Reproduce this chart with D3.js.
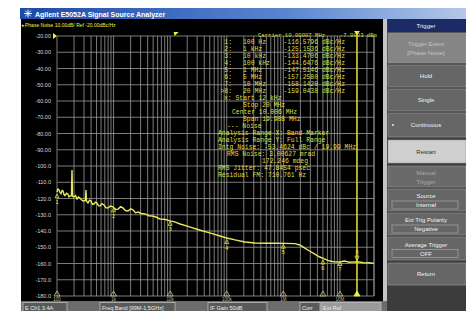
<!DOCTYPE html>
<meta charset="utf-8">
<title>E5052A Phase Noise</title>
<style>
body { margin: 0; background: #fff; }
svg text { font-family: "Liberation Sans", Arial, sans-serif; }
svg text.mono { font-family: "Liberation Mono", "DejaVu Sans Mono", monospace; }
</style>
<body>
<div id="chart"></div>
<script src="https://d3js.org/d3.v7.min.js"></script>
<script>
  // y axis ticks (dBc/Hz)
  var yTicks = [-20, -30, -40, -50, -60, -70, -80, -90, -100, -110, -120, -130, -140, -150, -160, -170, -180];
  var yTickLabels = ["-20.00", "-30.00", "-40.00", "-50.00", "-60.00", "-70.00", "-80.00", "-90.00",
                     "-100.0", "-110.0", "-120.0", "-130.0", "-140.0", "-150.0", "-160.0", "-170.0", "-180.0"];
  var decades = [100, 1e3, 1e4, 1e5, 1e6, 1e7];
  var decadeLabels = ["100", "1k", "10k", "100k", "1M", "10M"];

  // phase noise trace
  var traceFreq = [100, 104, 108, 113, 118, 123, 128, 133, 138, 147, 156, 163, 170, 180, 184, 188, 200, 213, 226,
                   240, 255, 270, 288, 318, 325, 332, 353, 375, 398, 425, 450, 480, 509, 540, 575, 620, 676, 730,
                   794, 880, 977, 1090, 1200, 1330, 1460, 1620, 1800, 2000, 2200, 2450, 2700, 3100, 3600, 4200,
                   4800, 5600, 6600, 8000, 9900, 12000, 15000, 22000, 33000, 50000, 76000, 1e5, 1.4e5, 2.1e5,
                   3.15e5, 4.75e5, 7.1e5, 1.07e6, 1.6e6, 1.95e6, 2.4e6, 2.9e6, 3.6e6, 4.4e6, 5.3e6, 6.6e6, 8.1e6,
                   1e7, 1.2e7, 1.47e7, 1.8e7, 2.2e7, 2.7e7, 3.3e7, 4e7];
  var traceDbc = [-116.0, -114.2, -114.6, -116.4, -117.0, -115.0, -115.3, -117.6, -118.2, -116.8, -117.4, -119.0,
                  -118.5, -118.3, -102.5, -118.6, -119.0, -118.2, -120.3, -119.0, -119.7, -120.8, -121.5, -121.2,
                  -114.8, -121.6, -122.8, -121.0, -121.5, -123.6, -123.4, -122.2, -122.8, -124.4, -124.6, -123.2,
                  -124.0, -125.6, -125.8, -124.6, -125.2, -126.8, -126.5, -125.0, -125.8, -127.4, -127.7, -126.4,
                  -127.0, -128.8, -128.3, -129.2, -129.5, -130.6, -130.8, -131.4, -132.6, -132.8, -133.8, -134.4,
                  -135.7, -137.5, -139.4, -141.2, -143.1, -144.3, -145.5, -146.8, -147.4, -147.5, -147.5, -147.6,
                  -147.8, -148.6, -150.5, -152.3, -154.2, -156.0, -157.2, -158.5, -159.0, -159.1, -158.5, -159.2,
                  -159.0, -159.1, -159.6, -159.5, -160.0];

  // markers
  var markerNames = ["1", "2", "3", "4", "5", "6", "7", ">8"];
  var markerFreq = [100, 1e3, 1e4, 1e5, 1e6, 5e6, 1e7, 2e7];
  var markerFreqLabels = ["100 Hz", "1 kHz", "10 kHz", "100 kHz", "1 MHz", "5 MHz", "10 MHz", "20 MHz"];
  var markerDbc = [-116.5796, -125.1536, -133.4706, -144.6476, -147.5146, -157.2580, -158.1420, -159.0438];
  var bandStart = 12e3, bandStop = 20e6;

  var noiseLines = ["Center 10.006 MHz", "Span 19.988 MHz", "--- Noise", "Analysis Range X: Band Marker",
                    "Analysis Range Y: Full Range", "Intg Noise: -53.4624 dBc / 19.99 MHz",
                    "RMS Noise: 3.00627 mrad", "172.246 mdeg", "RMS Jitter: 47.8454 psec",
                    "Residual FM: 710.761 Hz"];

  var softkeys = [["Trigger"], ["Trigger Event", "[Phase Noise]"], ["Hold"], ["Single"], ["Continuous"],
                  ["Restart"], ["Manual", "Trigger"], ["Source", "Internal"], ["Ext Trig Polarity", "Negative"],
                  ["Average Trigger", "OFF"], ["Return"]];
  var statusItems = ["E Ch1 3.4A", "Freq Band [99M-1.5GHz]", "IF Gain 50dB", "Corr", "Ext Ref"];

  var W = 466, H = 311;
  var svg = d3.select("#chart").append("svg").attr("width", W).attr("height", H);

  svg.append("rect").attr("width", W).attr("height", H).attr("fill", "#fff");

  // title bar
  var grad = svg.append("defs").append("linearGradient").attr("id", "tb");
  grad.append("stop").attr("offset", "0%").attr("stop-color", "#1d4aa8");
  grad.append("stop").attr("offset", "60%").attr("stop-color", "#5a86d0");
  grad.append("stop").attr("offset", "100%").attr("stop-color", "#b4c8e8");
  svg.append("rect").attr("x", 20).attr("y", 8).attr("width", W - 20).attr("height", 11).attr("fill", "url(#tb)");
  var star = svg.append("g").attr("transform", "translate(28,13.5)");
  d3.range(8).forEach(function(i) {
    var a = i * Math.PI / 4;
    star.append("line").attr("x1", 0).attr("y1", 0)
      .attr("x2", 4 * Math.cos(a)).attr("y2", 4 * Math.sin(a))
      .attr("stroke", "#fff").attr("stroke-width", 0.9);
  });
  svg.append("text").attr("x", 35).attr("y", 17).attr("fill", "#fff")
    .attr("font-size", 7).attr("font-weight", "bold")
    .text("Agilent E5052A Signal Source Analyzer");

  // screen
  svg.append("rect").attr("x", 21).attr("y", 19).attr("width", 363).attr("height", 283).attr("fill", "#000");
  svg.append("rect").attr("x", 383).attr("y", 19).attr("width", 4).attr("height", 283).attr("fill", "#c4c4c4");

  var x = d3.scaleLog().domain([100, 4e7]).range([57, 374]);
  var y = d3.scaleLinear().domain([-180, -20]).range([296, 36]);

  // grid
  var vgrid = [];
  decades.forEach(function(d) {
    for (var k = 1; k <= 9; k++) if (d * k <= 4e7) vgrid.push(d * k);
  });
  vgrid.push(4e7);
  svg.append("g").selectAll("line").data(vgrid).enter().append("line")
    .attr("x1", function(d) { return x(d); }).attr("x2", function(d) { return x(d); })
    .attr("y1", y(-20)).attr("y2", y(-180))
    .attr("stroke", "#9a9a9a").attr("stroke-width", 0.8);
  svg.append("g").selectAll("line").data(yTicks).enter().append("line")
    .attr("x1", x(100)).attr("x2", x(4e7))
    .attr("y1", function(d) { return y(d); }).attr("y2", function(d) { return y(d); })
    .attr("stroke", "#9a9a9a").attr("stroke-width", 0.8);

  svg.append("g").selectAll("text").data(yTicks).enter().append("text")
    .attr("x", 51).attr("y", function(d) { return y(d) + 2; })
    .attr("text-anchor", "end").attr("font-size", 5.5).attr("fill", "#d8d8d8")
    .text(function(d, i) { return yTickLabels[i]; });

  svg.append("path").attr("d", "M53," + (y(-20) - 3) + "l4,3l-4,3z").attr("fill", "#f0f040");
  svg.append("text").attr("x", 22).attr("y", 27).attr("font-size", 5).attr("fill", "#f0f040")
    .text("\u25B8Phase Noise 10.00dB/ Ref -20.00dBc/Hz");

  // band markers
  svg.append("path").attr("d", "M" + (x(bandStart) - 1) + ",32l5,0l-4,4z").attr("fill", "#f0f040");
  svg.append("line").attr("x1", x(bandStop)).attr("x2", x(bandStop)).attr("y1", 31).attr("y2", y(-180))
    .attr("stroke", "#e8e830").attr("stroke-width", 1.3);
  svg.append("path").attr("d", "M" + (x(bandStop) - 3) + ",31l6,0l-3,4z").attr("fill", "#f0f040");

  // trace
  var pts = traceFreq.map(function(f, i) { return [f, traceDbc[i]]; });
  svg.append("path").datum(pts)
    .attr("d", d3.line().x(function(d) { return x(d[0]); }).y(function(d) { return y(d[1]); }))
    .attr("fill", "none").attr("stroke", "#e8e85a").attr("stroke-width", 1.4);

  // marker glyphs on trace
  var mg = svg.append("g").selectAll("g").data(markerFreq).enter().append("g")
    .attr("transform", function(d, i) { return "translate(" + x(d) + "," + y(markerDbc[i]) + ")"; });
  mg.append("path").attr("d", function(d, i) { return i === 7 ? "M-2,-6l4,0l-2,5z" : "M0,1l2,4l-4,0z"; })
    .attr("fill", "none").attr("stroke", "#e6e640").attr("stroke-width", 0.8);
  mg.append("text").attr("y", function(d, i) { return i === 7 ? -8 : 11; })
    .attr("text-anchor", "middle").attr("font-size", 5.5).attr("fill", "#e6e640")
    .text(function(d, i) { return markerNames[i].replace(">", ""); });

  // marker triangles at the bottom
  svg.append("g").selectAll("path").data(markerFreq).enter().append("path")
    .attr("d", function(d) { return "M" + x(d) + "," + (y(-180) - 5) + "l3,5l-6,0z"; })
    .attr("fill", function(d, i) { return i === 7 ? "#f0f040" : "none"; })
    .attr("stroke", function(d, i) { return i === 7 ? "#f0f040" : "#c8c890"; })
    .attr("stroke-width", 0.8);
  svg.append("g").selectAll("text").data(decades).enter().append("text")
    .attr("x", function(d) { return x(d); }).attr("y", 301)
    .attr("text-anchor", "middle").attr("font-size", 4.5).attr("fill", "#bdbd9a")
    .text(function(d, i) { return decadeLabels[i]; });

  // marker table
  var tcol = "#dede48";
  var tbl = svg.append("g").attr("fill", tcol).attr("font-size", 6.4);
  tbl.append("text").attr("class", "mono").attr("x", 258).attr("y", 37).attr("font-size", 5.6)
    .text("Carrier 10.00007 MHz");
  tbl.append("text").attr("class", "mono").attr("x", 340).attr("y", 37).attr("font-size", 5.6)
    .text("-7.0803 dBm");
  markerFreq.forEach(function(f, i) {
    var yy = 44 + i * 7;
    tbl.append("text").attr("class", "mono").attr("x", 232).attr("y", yy).attr("text-anchor", "end")
      .text(markerNames[i] + ":");
    tbl.append("text").attr("class", "mono").attr("x", 243).attr("y", yy).text(markerFreqLabels[i]);
    tbl.append("text").attr("class", "mono").attr("x", 318).attr("y", yy).attr("text-anchor", "end")
      .text(markerDbc[i].toFixed(4));
    tbl.append("text").attr("class", "mono").attr("x", 322).attr("y", yy).text("dBc/Hz");
  });
  tbl.append("text").attr("class", "mono").attr("x", 224).attr("y", 100).text("x: Start 12 kHz");
  tbl.append("text").attr("class", "mono").attr("x", 243).attr("y", 107).text("Stop 20 MHz");
  var nx = [232, 243, 227, 218, 218, 218, 227, 262, 218, 218];
  noiseLines.forEach(function(s, i) {
    tbl.append("text").attr("class", "mono").attr("x", nx[i]).attr("y", 114 + i * 7).text(s);
  });

  // status bar
  svg.append("rect").attr("x", 21).attr("y", 301).attr("width", 366).attr("height", 10).attr("fill", "#6c6c6c");
  var sbx = [[23, 67], [100, 175], [208, 267], [300, 320], [321, 381]];
  statusItems.forEach(function(s, i) {
    svg.append("rect").attr("x", sbx[i][0]).attr("y", 302.5).attr("width", sbx[i][1] - sbx[i][0]).attr("height", 9)
      .attr("fill", i === 4 ? "#9a9a9a" : "#5a5a5a").attr("stroke", "#c8c8c8").attr("stroke-width", 0.7);
    svg.append("text").attr("x", sbx[i][0] + 2).attr("y", 309.5).attr("font-size", 5.5).attr("fill", "#eee").text(s);
  });

  // softkey panel
  svg.append("rect").attr("x", 387).attr("y", 19).attr("width", W - 387).attr("height", H - 19).attr("fill", "#3c3c3c");
  var keyTop = [19, 33, 65, 89, 113, 140, 166, 189, 213, 237, 263];
  var keyBot = [32, 63, 87, 111, 137, 163, 187, 211, 235, 260, 285];
  softkeys.forEach(function(lines, i) {
    var fill = "#666", tc = "#f2f2f2";
    if (i === 0) { fill = "#1c2a66"; }
    if (i === 1) { fill = "#858585"; tc = "#c4c4c4"; }
    if (i === 5) { fill = "#cfcfcf"; tc = "#303030"; }
    if (i === 6) { fill = "#6a6a6a"; tc = "#a8a8a8"; }
    var h = keyBot[i] - keyTop[i];
    svg.append("rect").attr("x", 388).attr("y", keyTop[i]).attr("width", W - 388).attr("height", h)
      .attr("fill", fill).attr("stroke", i === 0 ? "none" : "#9a9a9a").attr("stroke-width", 0.6);
    var cx = 426;
    if (lines.length === 1) {
      svg.append("text").attr("x", cx).attr("y", keyTop[i] + h / 2 + 2).attr("text-anchor", "middle")
        .attr("font-size", 6).attr("fill", tc).text(lines[0]);
    } else {
      if (i >= 7) {
        svg.append("rect").attr("x", 392).attr("y", keyTop[i] + h / 2 + 1).attr("width", 66).attr("height", 8)
          .attr("fill", "none").attr("stroke", "#b0b0b0").attr("stroke-width", 0.6);
      }
      svg.append("text").attr("x", cx).attr("y", keyTop[i] + h / 2 - 2).attr("text-anchor", "middle")
        .attr("font-size", 6).attr("fill", tc).text(lines[0]);
      svg.append("text").attr("x", cx).attr("y", keyTop[i] + h / 2 + 7).attr("text-anchor", "middle")
        .attr("font-size", 6).attr("fill", tc).text(lines[1]);
    }
    if (i === 4) {
      svg.append("circle").attr("cx", 393).attr("cy", keyTop[i] + h / 2).attr("r", 1).attr("fill", "#eee");
    }
  });
</script>
</body>
</html>
